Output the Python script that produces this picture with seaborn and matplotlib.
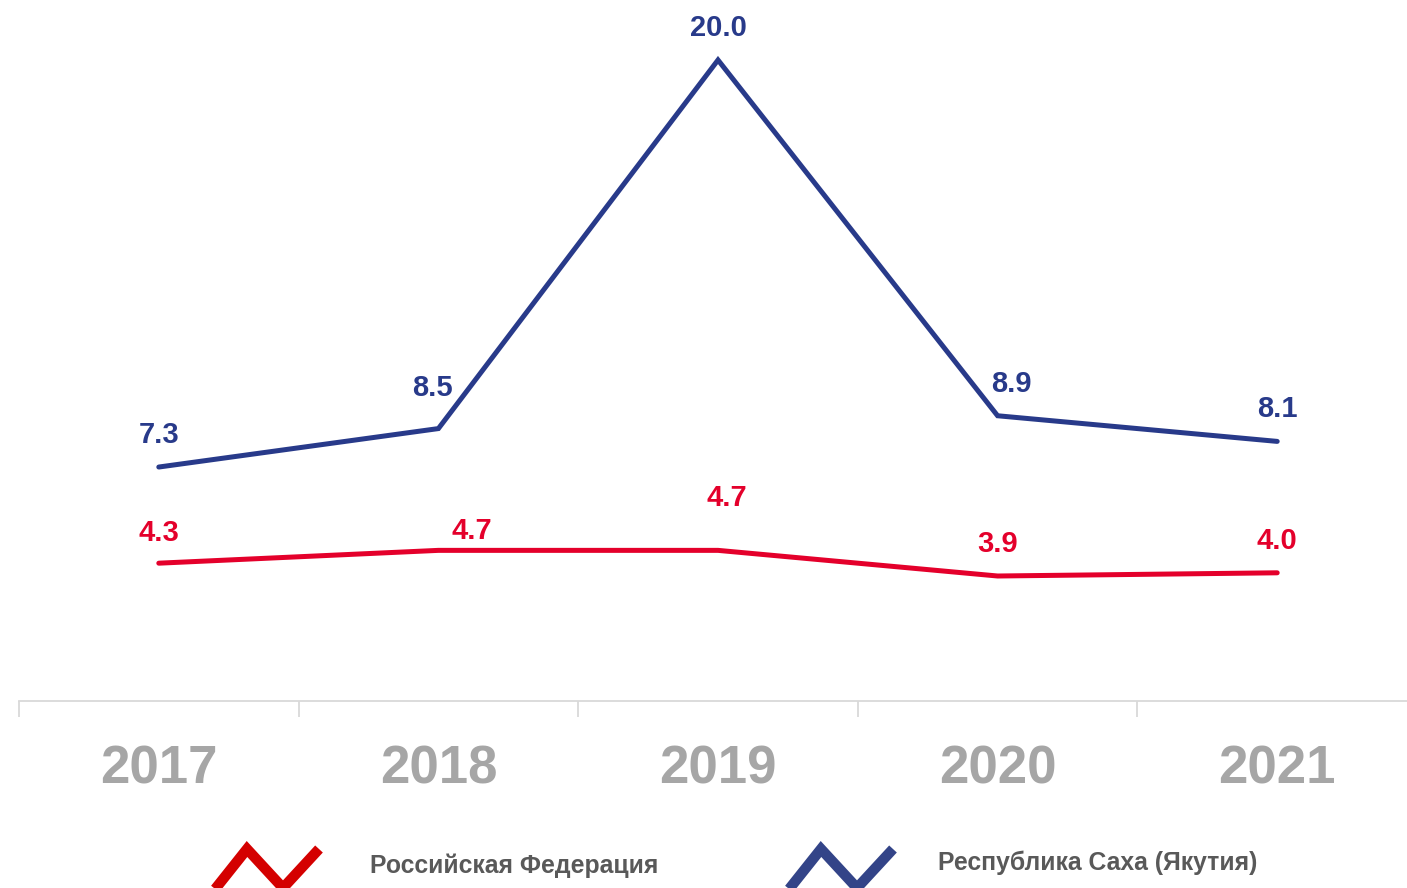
import pandas as pd
import seaborn as sns
import matplotlib.pyplot as plt
from matplotlib.lines import Line2D

# data
years = ["2017", "2018", "2019", "2020", "2021"]
rf = [4.3, 4.7, 4.7, 3.9, 4.0]
yakutia = [7.3, 8.5, 20.0, 8.9, 8.1]
series_names = ["Российская Федерация", "Республика Саха (Якутия)"]

# label offsets in points (dx, dy)
rf_off = [(0, 22), (24, 14), (6, 38), (0, 23), (0, 23)]
yak_off = [(0, 23), (-4, 29), (0, 23), (10, 23), (0, 23)]

red = "#e4002b"
blue = "#283a8a"

df = pd.DataFrame({
    "year": list(range(len(years))) * 2,
    "value": rf + yakutia,
    "series": [series_names[0]] * len(years) + [series_names[1]] * len(years),
})

sns.set_style("white")
plt.rcParams["font.family"] = ["Liberation Sans", "DejaVu Sans"]

fig = plt.figure(figsize=(14.07, 8.88), dpi=100)
W, H = 1407, 888
ax = fig.add_axes([19 / W, 187 / H, (1417 - 19) / W, 701 / H])

sns.lineplot(data=df, x="year", y="value", hue="series",
             palette={series_names[0]: red, series_names[1]: blue},
             linewidth=3.6, legend=False, ax=ax,
             solid_capstyle="round", solid_joinstyle="miter")

for i, v in enumerate(rf):
    ax.annotate(f"{v:.1f}", (i, v), xytext=rf_off[i], textcoords="offset points",
                ha="center", va="center", color=red, fontsize=21, fontweight="bold")
for i, v in enumerate(yakutia):
    ax.annotate(f"{v:.1f}", (i, v), xytext=yak_off[i], textcoords="offset points",
                ha="center", va="center", color=blue, fontsize=21, fontweight="bold")

ax.set_xlim(-0.5, 4.5)
ax.set_ylim(0, 701 / 32.05)
for s in ["top", "right", "left"]:
    ax.spines[s].set_visible(False)
ax.spines["bottom"].set_color("#d9d9d9")
ax.spines["bottom"].set_linewidth(1.3)
ax.set_yticks([])
ax.set_xticks(range(len(years)))
ax.set_xticklabels(years, fontsize=38, fontweight="bold", color="#a6a6a6")
ax.tick_params(axis="x", which="major", bottom=False, length=0, pad=31)
ax.set_xticks([i - 0.5 for i in range(len(years) + 1)], minor=True)
ax.tick_params(axis="x", which="minor", bottom=True, length=11.5, width=1.3,
               color="#d9d9d9", direction="out")
ax.set_xlabel("")
ax.set_ylabel("")

# legend with zigzag icons
def zigzag(x0, color):
    xs = [x0, x0 + 35, x0 + 71, x0 + 107]
    ys = [893, 849, 888, 849]
    fig.add_artist(Line2D([x / W for x in xs], [1 - y / H for y in ys],
                          color=color, linewidth=7.5, transform=fig.transFigure,
                          solid_joinstyle="miter", solid_capstyle="butt"))

zigzag(212, "#d40000")
zigzag(786, "#334488")
fig.text(370 / W, 1 - 866 / H, series_names[0], ha="left", va="center",
         fontsize=17.8, fontweight="bold", color="#595959")
fig.text(938 / W, 1 - 863 / H, series_names[1], ha="left", va="center",
         fontsize=17.8, fontweight="bold", color="#595959")

fig.savefig("out.png", dpi=100)
